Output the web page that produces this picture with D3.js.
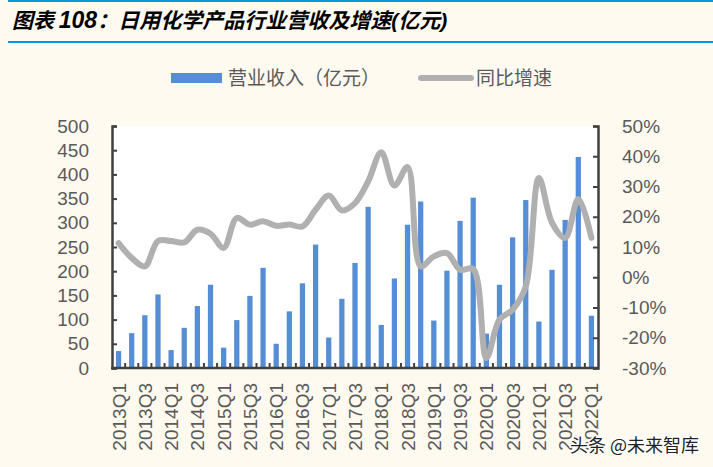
<!DOCTYPE html>
<html>
<head>
<meta charset="utf-8">
<script src="https://cdn.jsdelivr.net/npm/d3@7"></script>
<style>
  body { margin: 0; background: #fefaf0; }
  svg { display: block; }
</style>
</head>
<body>
<div id="chart"></div>
<script>
// quarters 2013Q1 .. 2022Q1
const quarters = [];
for (let y = 2013; y <= 2022; y++) {
  for (let q = 1; q <= 4; q++) {
    if (y === 2022 && q > 1) break;
    quarters.push(y + 'Q' + q);
  }
}

// 营业收入（亿元）
const revenue = [35, 72, 109, 152, 37, 83, 128, 172, 42, 99, 149, 207,
  50, 117, 175, 255, 63, 143, 217, 333, 89, 185, 296, 344,
  98, 201, 304, 352, 71, 172, 270, 347, 96, 203, 306, 436, 108];

// 同比增速 (%)
const growth = [11.3, 6.4, 3.6, 12, 12, 11.5, 15.7, 14.4, 9.7, 19.6, 17.4, 18.5,
  17, 17.4, 16.8, 22.3, 27, 22.1, 24.5, 31.7, 41.3, 30.3, 36.4, 3.6,
  6.9, 8, 2.5, 2.7, -26.7, -14, -10.7, -3, 32.8, 18, 13, 25.9, 13];

const leftTicks = [0, 50, 100, 150, 200, 250, 300, 350, 400, 450, 500];
const rightTicks = [-30, -20, -10, 0, 10, 20, 30, 40, 50];

const width = 713;
const height = 467;
const margin = {top: 126, right: 115, bottom: 99, left: 112};

const latin = '"Liberation Sans", Arial, sans-serif';
const cjk = '"Noto Sans CJK SC", "Liberation Sans", sans-serif';
const textGray = '#595959';
const axisColor = '#404040';
const barColor = '#558ed5';
const lineColor = '#b0b0b0';

const svg = d3.select('#chart').append('svg')
  .attr('width', width).attr('height', height);

svg.append('rect').attr('width', width).attr('height', height).attr('fill', '#fefaf0');

// title + rules
svg.append('rect').attr('x', 8).attr('y', 0).attr('width', width - 8).attr('height', 2).attr('fill', '#0a96d8');
svg.append('rect').attr('x', 8).attr('y', 41).attr('width', width - 8).attr('height', 2).attr('fill', '#0a96d8');
const title = svg.append('text')
  .attr('x', 12).attr('y', 28)
  .attr('font-family', cjk).attr('font-size', 21).attr('font-weight', 'bold').attr('font-style', 'italic')
  .attr('fill', '#000');
title.append('tspan').text('图表 ');
title.append('tspan').attr('font-family', latin).attr('font-size', 23).text('108');
title.append('tspan').text('：日用化学产品行业营收及增速');
title.append('tspan').attr('font-family', latin).text('(');
title.append('tspan').text('亿元');
title.append('tspan').attr('font-family', latin).text(')');

const x = d3.scaleBand().domain(quarters).range([margin.left, width - margin.right]).paddingInner(0.6).paddingOuter(0.3);
const y = d3.scaleLinear().domain([0, 500]).range([height - margin.bottom, margin.top]);
const y2 = d3.scaleLinear().domain([-30, 50]).range([height - margin.bottom, margin.top]);

// plot area
svg.append('rect')
  .attr('x', margin.left).attr('y', margin.top)
  .attr('width', width - margin.left - margin.right)
  .attr('height', height - margin.top - margin.bottom)
  .attr('fill', '#fff');

// bars
svg.append('g').selectAll('rect').data(revenue).enter().append('rect')
  .attr('x', (d, i) => x(quarters[i]))
  .attr('y', d => y(d))
  .attr('width', x.bandwidth())
  .attr('height', d => y(0) - y(d))
  .attr('fill', barColor);

// growth line
const line = d3.line()
  .x((d, i) => x(quarters[i]) + x.bandwidth() / 2)
  .y(d => y2(d))
  .curve(d3.curveCatmullRom.alpha(0.5));
svg.append('path').datum(growth)
  .attr('d', line)
  .attr('fill', 'none').attr('stroke', lineColor).attr('stroke-width', 6)
  .attr('stroke-linejoin', 'round').attr('stroke-linecap', 'round');

// left axis
const leftAxis = svg.append('g').attr('transform', `translate(${margin.left},0)`)
  .call(d3.axisLeft(y).tickValues(leftTicks).tickSize(-5).tickPadding(23));
// right axis
const rightAxis = svg.append('g').attr('transform', `translate(${width - margin.right},0)`)
  .call(d3.axisRight(y2).tickValues(rightTicks).tickSize(-5).tickPadding(24).tickFormat(d => d + '%'));

[leftAxis, rightAxis].forEach(g => {
  g.select('.domain').attr('stroke', axisColor).attr('stroke-width', 2.5);
  g.selectAll('.tick line').attr('stroke', axisColor).attr('stroke-width', 2);
  g.selectAll('.tick text').attr('fill', textGray).attr('font-family', latin).attr('font-size', 19);
});

// bottom axis: ticks at band boundaries, labels on every other quarter
const step = x.step();
const bottom = svg.append('g').attr('transform', `translate(0,${height - margin.bottom})`);
bottom.selectAll('line.tk').data(quarters.slice(1)).enter().append('line')
  .attr('x1', d => x(d) - step * 0.3)
  .attr('x2', d => x(d) - step * 0.3)
  .attr('y1', 0).attr('y2', -5)
  .attr('stroke', axisColor).attr('stroke-width', 2);
bottom.append('line')
  .attr('x1', margin.left - 1).attr('x2', width - margin.right + 1)
  .attr('y1', 0).attr('y2', 0)
  .attr('stroke', axisColor).attr('stroke-width', 2.5);
bottom.selectAll('text').data(quarters.filter((d, i) => i % 2 === 0)).enter().append('text')
  .attr('transform', d => `translate(${x(d) + x.bandwidth() / 2 + 7},15) rotate(-90)`)
  .attr('text-anchor', 'end')
  .attr('font-family', latin).attr('font-size', 19).attr('fill', textGray)
  .text(d => d);

// legend
svg.append('rect').attr('x', 171).attr('y', 73).attr('width', 51).attr('height', 10).attr('fill', barColor);
svg.append('text').attr('x', 228).attr('y', 85)
  .attr('font-family', cjk).attr('font-size', 19).attr('fill', textGray)
  .text('营业收入（亿元）');
svg.append('line').attr('x1', 421).attr('x2', 471).attr('y1', 78).attr('y2', 78)
  .attr('stroke', lineColor).attr('stroke-width', 6).attr('stroke-linecap', 'round');
svg.append('text').attr('x', 476).attr('y', 85)
  .attr('font-family', cjk).attr('font-size', 19).attr('fill', textGray)
  .text('同比增速');

// watermark
svg.append('text').attr('x', 570).attr('y', 452)
  .attr('font-family', cjk).attr('font-size', 18).attr('fill', '#222')
  .attr('stroke', '#fff').attr('stroke-width', 3).attr('paint-order', 'stroke')
  .text('头条 @未来智库');
</script>
</body>
</html>
